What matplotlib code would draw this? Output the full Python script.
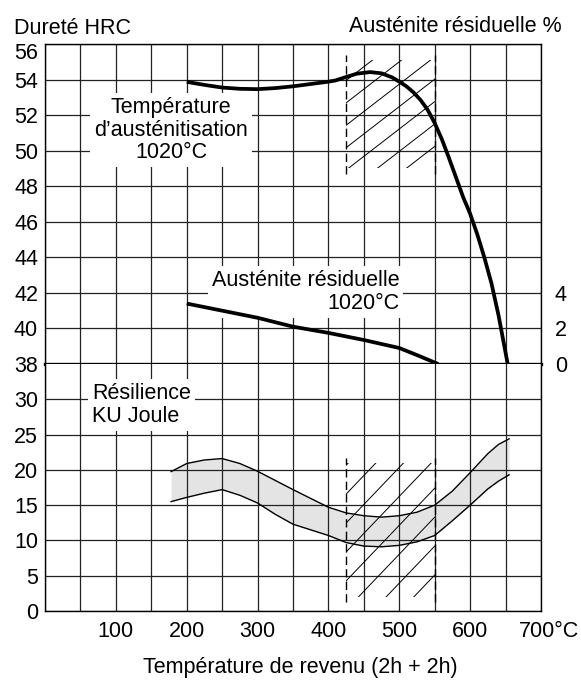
import matplotlib
matplotlib.use('Agg')
import matplotlib.pyplot as plt
import matplotlib.transforms as mtrans
import numpy as np
from matplotlib.patches import Rectangle

plt.rcParams['font.family'] = ['Liberation Sans', 'DejaVu Sans']
FS = 15.5

# hardness HRC vs tempering temperature
hrc_t = [200, 225, 250, 275, 300, 325, 350, 375, 400, 410, 423, 440, 459, 475, 490,
         500, 510, 520, 530, 540, 550, 560, 570, 580, 590, 600, 610, 620, 630, 640, 653]
hrc_v = [53.87, 53.7, 53.55, 53.48, 53.46, 53.52, 53.62, 53.75, 53.88, 53.95, 54.12,
         54.33, 54.42, 54.35, 54.12, 53.88, 53.62, 53.28, 52.85, 52.3, 51.55, 50.65,
         49.6, 48.5, 47.4, 46.45, 45.3, 44.0, 42.55, 40.75, 38.0]

# retained austenite %
aus_t = [200, 225, 250, 300, 350, 400, 450, 500, 525, 555]
aus_v = [3.4, 3.2, 3.0, 2.6, 2.1, 1.75, 1.35, 0.9, 0.5, 0.0]

# impact energy KU (J), band
ku_t = [178, 200, 225, 250, 275, 300, 325, 350, 400, 425, 450, 475, 500, 525, 550,
        575, 600, 625, 640, 655]
ku_hi = [19.75, 20.9, 21.4, 21.6, 20.9, 19.8, 18.5, 17.2, 14.7, 13.9, 13.5, 13.3,
         13.5, 14.0, 15.0, 17.0, 19.6, 22.3, 23.6, 24.4]
ku_lo = [15.5, 16.1, 16.7, 17.2, 16.4, 15.3, 13.7, 12.3, 10.7, 9.7, 9.2, 9.1, 9.3,
         9.8, 10.7, 12.8, 15.0, 17.3, 18.4, 19.3]

# hatched zone (temperature range)
zone = [425, 550]

W, H = 581, 680
fig = plt.figure(figsize=(W / 100, H / 100), dpi=100)
ax_top = fig.add_axes([45 / W, 1 - 364 / H, 496 / W, 320 / H])
ax_bot = fig.add_axes([45 / W, 1 - 611 / H, 496 / W, 247 / H])

xt = np.arange(0, 701, 50)
for ax in (ax_top, ax_bot):
  ax.set_xlim(0, 700)
  ax.set_xticks(xt)
  ax.grid(True, color='#222222', lw=0.9)
  ax.set_axisbelow(True)
  ax.tick_params(length=0, labelsize=FS)
  for s in ax.spines.values():
    s.set_linewidth(1.0)

ax_top.set_ylim(38, 56)
ax_top.set_yticks(np.arange(38, 57, 2))
ax_top.tick_params(axis='y', pad=5)
ax_top.set_xticklabels([])
ax_top.spines['bottom'].set_linewidth(2.4)
# top label sits a little lower, under the header
fig.canvas.draw()
top_lbl = ax_top.get_yticklabels()[-1]
top_lbl.set_transform(top_lbl.get_transform() + mtrans.ScaledTranslation(0, -7 / 100, fig.dpi_scale_trans))

ax_bot.set_ylim(0, 35)
ax_bot.set_yticks(np.arange(0, 31, 5))
ax_bot.tick_params(axis='y', pad=5)
ax_bot.spines['top'].set_visible(False)
xlab = ['' if (t % 100 or t == 0) else str(t) for t in xt]
xlab[-1] = '700°C'
ax_bot.set_xticklabels(xlab)
ax_bot.tick_params(axis='x', pad=7)
last = ax_bot.get_xticklabels()[-1]
last.set_horizontalalignment('left')
last.set_transform(last.get_transform() + mtrans.ScaledTranslation(-22 / 100, 0, fig.dpi_scale_trans))

# right axis: retained austenite
ax_aus = ax_top.twinx()
ax_aus.set_ylim(0, 18)
ax_aus.set_yticks([0, 2, 4])
ax_aus.tick_params(length=0, labelsize=FS, pad=10)
for s in ax_aus.spines.values():
  s.set_visible(False)

# curves
ax_top.plot(hrc_t, hrc_v, color='black', lw=2.7, solid_capstyle='butt', zorder=4)
ax_aus.plot(aus_t, aus_v, color='black', lw=2.7, solid_capstyle='butt', zorder=4)

ax_bot.fill_between(ku_t, ku_lo, ku_hi, color='#e4e4e4', lw=0, zorder=0.2)
ax_bot.plot(ku_t, ku_hi, color='black', lw=1.0, zorder=2)
ax_bot.plot(ku_t, ku_lo, color='black', lw=1.0, zorder=2)


# dashed zone limits and hatching
def hatch(ax, y0, y1, slope, step, phase, ext):
  ax.vlines(zone, y0 - ext, y1 + ext, colors='black', lw=1.0,
            linestyles=(0, (6, 3)), zorder=3)
  rect = Rectangle((zone[0], y0), zone[1] - zone[0], y1 - y0, transform=ax.transData,
                   fill=False, lw=0)
  xs = np.array(zone, dtype=float)
  for k in np.arange(-20, 20):
    b = phase + k * step
    ln, = ax.plot(xs, b + slope * (xs - zone[0]), color='black', lw=0.7, zorder=3)
    ln.set_clip_path(rect)


hatch(ax_top, 49.0, 55.1, 0.0308, 1.26, 50.17, 0.3)
hatch(ax_bot, 2.0, 21.0, 0.105, 4.1, 8.37, 0.7)

# annotations
box = dict(facecolor='white', edgecolor='none', pad=3)
ax_top.text(178, 51.15, 'Température\nd’austénitisation\n1020°C', ha='center', va='center',
            fontsize=FS, linespacing=1.1, bbox=box, zorder=5)
ax_top.text(500, 42.05, 'Austénite résiduelle\n1020°C', ha='right', va='center',
            fontsize=FS, linespacing=1.1, bbox=box, zorder=5)
ax_bot.text(67, 29.2, 'Résilience\nKU Joule', ha='left', va='center',
            fontsize=FS, linespacing=1.1, bbox=box, zorder=5)

fig.text(14 / W, 1 - 34 / H, 'Dureté HRC', fontsize=FS, va='baseline')
fig.text(562 / W, 1 - 32 / H, 'Austénite résiduelle %', fontsize=FS, va='baseline', ha='right')
fig.text(300 / W, 1 - 673 / H, 'Température de revenu (2h + 2h)', fontsize=FS,
         va='baseline', ha='center')

fig.savefig('out.png', dpi=100)
